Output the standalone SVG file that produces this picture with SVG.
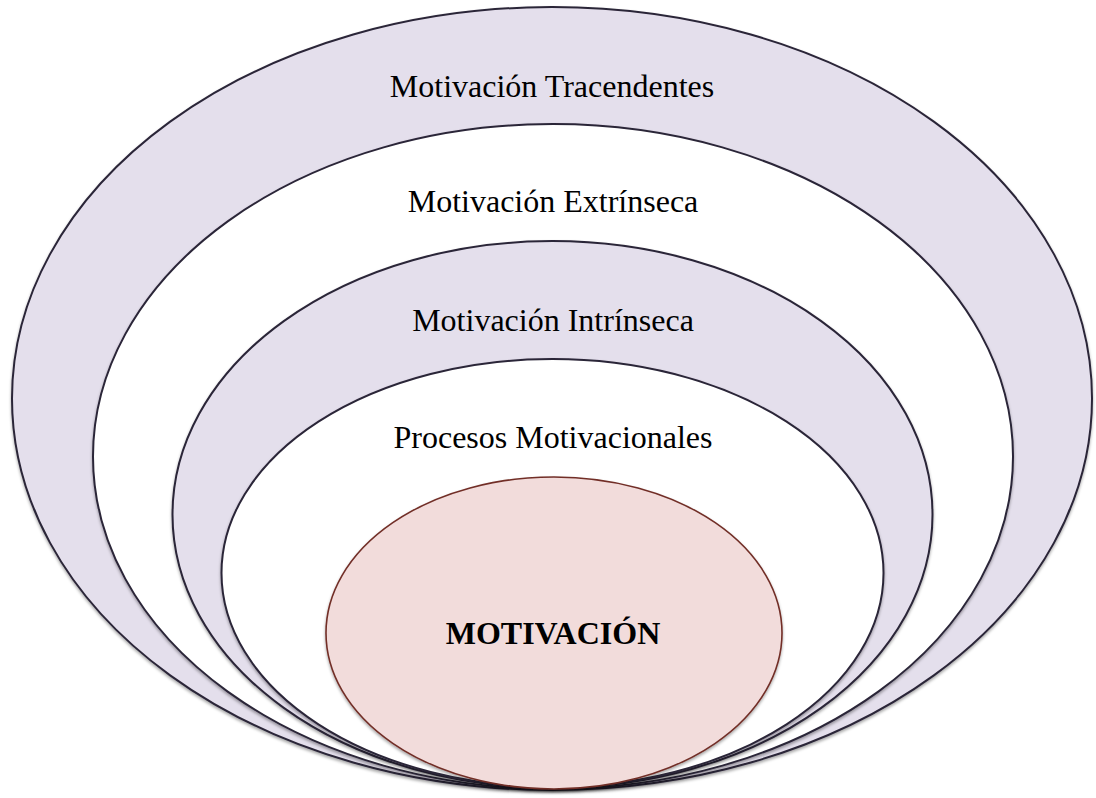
<svg xmlns="http://www.w3.org/2000/svg" width="1096" height="798" viewBox="0 0 1096 798">
<style>
.ring{stroke:#2b2538;stroke-width:2;filter:url(#sh)}
.lav{fill:#e4dfec}
.wht{fill:#ffffff}
.core{fill:#f2dcdb;stroke:#722f28;stroke-width:1.6;filter:url(#sh)}
.lbl{font-family:"Liberation Serif","Times New Roman",serif;font-size:32px;fill:#000;text-anchor:middle}
.big{font-weight:bold;font-size:32px}
</style>
<defs>
<filter id="sh" x="-5%" y="-5%" width="110%" height="112%">
<feDropShadow dx="0" dy="2" stdDeviation="1.5" flood-color="#000" flood-opacity="0.35"/>
</filter>
</defs>
<rect width="1096" height="798" fill="#fff"/>
<g id="n1"><ellipse class="ring lav" cx="552" cy="398.5" rx="540" ry="391.5"/><text class="lbl" x="552" y="97">Motivación Tracendentes</text></g>
<g id="n2"><ellipse class="ring wht" cx="553" cy="456.5" rx="460" ry="332.5"/><text class="lbl" x="553" y="212">Motivación Extrínseca</text></g>
<g id="n3"><ellipse class="ring lav" cx="552.5" cy="514.5" rx="380" ry="273.5"/><text class="lbl" x="553" y="331">Motivación Intrínseca</text></g>
<g id="n4"><ellipse class="ring wht" cx="552.5" cy="573" rx="331" ry="214"/><text class="lbl" x="553" y="448">Procesos Motivacionales</text></g>
<g id="n5"><ellipse class="core" cx="554" cy="633" rx="228" ry="156"/><text class="lbl big" x="553" y="644">MOTIVACIÓN</text></g>
<g id="connectors"></g>
</svg>
